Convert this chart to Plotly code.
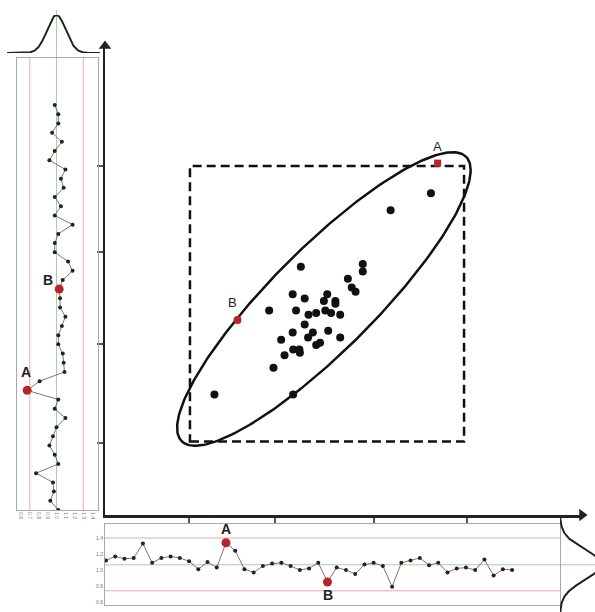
import numpy as np
import plotly.graph_objects as go

W, H = 595, 612

# ---------------- data ----------------
# left (vertical) control chart: values, top to bottom
left_vals = [0.98, 1.02, 1.02, 0.95, 1.06, 0.98, 0.92, 1.10, 1.05, 1.08, 0.98,
             1.05, 0.98, 1.18, 1.02, 0.98, 0.98, 1.13, 1.18, 1.07, 1.03,
             1.04, 1.04, 1.10, 1.06, 1.02, 1.02, 1.07, 1.08, 1.09, 0.81, 0.67,
             1.02, 0.98, 1.10, 1.00, 0.96, 0.92, 0.98, 1.02, 0.77, 0.96, 0.97, 0.93, 1.02]
left_A, left_B = 31, 20
left_center, left_lcl, left_ucl = 1.0, 0.7, 1.3
left_ticks = [0.6, 0.7, 0.8, 0.9, 1.0, 1.1, 1.2, 1.3, 1.4]
left_sd = 0.105

# bottom (horizontal) control chart
bottom_vals = [1.12, 1.17, 1.14, 1.15, 1.33, 1.09, 1.15, 1.17, 1.15, 1.11,
               1.01, 1.10, 1.03, 1.34, 1.24, 1.01, 0.97, 1.05, 1.08, 1.09,
               1.05, 1.00, 1.02, 1.09, 0.85, 1.03, 1.00, 0.95, 1.07, 1.09,
               1.05, 0.79, 1.09, 1.12, 1.15, 1.06, 1.09, 0.97, 1.02, 1.03,
               1.00, 1.13, 0.93, 1.01, 1.00]
bottom_A, bottom_B = 13, 24
bottom_center, bottom_lcl, bottom_ucl = 1.065, 0.74, 1.4
bottom_ticks = [0.6, 0.8, 1.0, 1.2, 1.4]
bottom_sd = 0.1875

# main scatter (x1 vs x2)
main_x = [6.79, 5.95, 4.08, 5.37, 5.37, 5.06, 5.14, 5.22, 3.91, 4.16, 4.63, 4.56,
          4.80, 4.80, 3.42, 3.98, 4.40, 4.59, 4.71, 4.90, 4.24, 4.16, 4.33, 3.91,
          4.65, 3.67, 4.23, 4.90, 4.40, 4.48, 3.92, 4.05, 4.06, 3.74, 3.51, 2.28, 3.92]
main_y = [6.70, 6.35, 5.17, 5.23, 5.07, 4.92, 4.74, 4.65, 4.60, 4.51, 4.60, 4.46,
          4.46, 4.40, 4.26, 4.26, 4.21, 4.26, 4.21, 4.17, 4.17, 3.97, 3.80, 3.80,
          3.84, 3.65, 3.70, 3.70, 3.54, 3.59, 3.45, 3.45, 3.38, 3.33, 3.07, 2.51, 2.51]
main_A = (6.93, 7.33)
main_B = (2.76, 4.06)
main_xticks = [1.75, 3.54, 5.60, 7.54]
main_yticks = [1.50, 3.56, 5.48, 7.27]
limits_x = (1.77, 7.48)
limits_y = (1.53, 7.27)
ellipse_center = (4.56, 4.50)
ellipse_axes = (4.19, 1.07)
ellipse_angle_deg = 45

# ---------------- helpers ----------------
def dx(p):
    return p / W

def dy(p):
    return 1 - p / H

RED = "#b8242a"
PINK = "#e9a9a9"
GREEN = "#9fd59f"
BOXC = "#a8a8a8"
FONT = "Liberation Sans"

fig = go.Figure()

# ---- main ellipse ----
t = np.linspace(0, 2 * np.pi, 300)
th = np.radians(ellipse_angle_deg)
a, b = ellipse_axes
ex = ellipse_center[0] + a * np.cos(t) * np.cos(th) - b * np.sin(t) * np.sin(th)
ey = ellipse_center[1] + a * np.cos(t) * np.sin(th) + b * np.sin(t) * np.cos(th)
fig.add_trace(go.Scatter(x=ex, y=ey, mode="lines", line=dict(color="#111", width=2.5),
                         xaxis="x", yaxis="y", hoverinfo="skip"))
fig.add_trace(go.Scatter(x=main_x, y=main_y, mode="markers",
                         marker=dict(color="#111", size=8), xaxis="x", yaxis="y"))
fig.add_trace(go.Scatter(x=[main_B[0]], y=[main_B[1]], mode="markers",
                         marker=dict(color=RED, size=8), xaxis="x", yaxis="y"))
fig.add_trace(go.Scatter(x=[main_A[0]], y=[main_A[1]], mode="markers",
                         marker=dict(color=RED, size=7, symbol="square"), xaxis="x", yaxis="y"))
# axis arrowheads
fig.add_trace(go.Scatter(x=[9.9375], y=[0], mode="markers", cliponaxis=False,
                         marker=dict(symbol="triangle-right", size=11, color="#222"),
                         xaxis="x", yaxis="y"))
fig.add_trace(go.Scatter(x=[0], y=[9.77], mode="markers", cliponaxis=False,
                         marker=dict(symbol="triangle-up", size=11, color="#222"),
                         xaxis="x", yaxis="y"))

# ---- left control chart ----
li = list(range(len(left_vals)))
fig.add_trace(go.Scatter(x=left_vals, y=li, mode="lines+markers",
                         line=dict(color="#555", width=0.8),
                         marker=dict(color="#222", size=4), xaxis="x2", yaxis="y2"))
fig.add_trace(go.Scatter(x=[left_vals[left_A], left_vals[left_B]], y=[left_A, left_B],
                         mode="markers", marker=dict(color=RED, size=9), cliponaxis=False,
                         xaxis="x2", yaxis="y2"))

# left bell curve
bx = np.linspace(0.444, 1.489, 200)
by = np.exp(-0.5 * ((bx - left_center) / left_sd) ** 2)
fig.add_trace(go.Scatter(x=bx, y=by, mode="lines", line=dict(color="#222", width=2),
                         xaxis="x3", yaxis="y3", hoverinfo="skip"))

# ---- bottom control chart ----
bi = list(range(len(bottom_vals)))
fig.add_trace(go.Scatter(x=bi, y=bottom_vals, mode="lines+markers",
                         line=dict(color="#555", width=0.8),
                         marker=dict(color="#222", size=4), xaxis="x4", yaxis="y4"))
fig.add_trace(go.Scatter(x=[bottom_A, bottom_B], y=[bottom_vals[bottom_A], bottom_vals[bottom_B]],
                         mode="markers", marker=dict(color=RED, size=9), cliponaxis=False,
                         xaxis="x4", yaxis="y4"))

# right bell curve
ry = np.linspace(0.475, 1.6875, 200)
rx = np.exp(-0.5 * ((ry - bottom_center) / bottom_sd) ** 2)
fig.add_trace(go.Scatter(x=rx, y=ry, mode="lines", line=dict(color="#222", width=2),
                         xaxis="x5", yaxis="y5", hoverinfo="skip"))

shapes = [
    # dashed limits rectangle
    dict(type="rect", xref="x", yref="y", x0=limits_x[0], x1=limits_x[1],
         y0=limits_y[0], y1=limits_y[1], line=dict(color="#111", width=2.5, dash="9px,5px"),
         layer="below"),
    # left panel limit lines
    dict(type="line", xref="x2", yref="y2 domain", x0=left_lcl, x1=left_lcl, y0=0, y1=1,
         line=dict(color=PINK, width=1), layer="below"),
    dict(type="line", xref="x2", yref="y2 domain", x0=left_ucl, x1=left_ucl, y0=0, y1=1,
         line=dict(color=PINK, width=1), layer="below"),
    dict(type="line", xref="x2", yref="paper", x0=left_center, x1=left_center,
         y0=dy(510), y1=dy(10), line=dict(color=GREEN, width=1), layer="below"),
    # bottom panel limit lines
    dict(type="line", xref="x4 domain", yref="y4", x0=0, x1=1, y0=bottom_ucl, y1=bottom_ucl,
         line=dict(color=PINK, width=1), layer="below"),
    dict(type="line", xref="x4 domain", yref="y4", x0=0, x1=1, y0=bottom_lcl, y1=bottom_lcl,
         line=dict(color=PINK, width=1), layer="below"),
    dict(type="line", xref="paper", yref="y4", x0=dx(105), x1=1, y0=bottom_center, y1=bottom_center,
         line=dict(color=GREEN, width=1), layer="below"),
]

lab_panel = dict(family=FONT, size=14, color="#222")
lab_main = dict(family=FONT, size=13, color="#222")
annotations = [
    dict(x=left_vals[left_B], y=left_B, xref="x2", yref="y2", text="<b>B</b>", showarrow=False,
         xshift=-11, yshift=9, font=lab_panel),
    dict(x=left_vals[left_A], y=left_A, xref="x2", yref="y2", text="<b>A</b>", showarrow=False,
         xshift=-1, yshift=18, font=lab_panel),
    dict(x=bottom_A, y=bottom_vals[bottom_A], xref="x4", yref="y4", text="<b>A</b>", showarrow=False,
         yshift=14, font=lab_panel),
    dict(x=bottom_B, y=bottom_vals[bottom_B], xref="x4", yref="y4", text="<b>B</b>", showarrow=False,
         yshift=-13, font=lab_panel),
    dict(x=main_A[0], y=main_A[1], xref="x", yref="y", text="A", showarrow=False,
         yshift=17, font=lab_main),
    dict(x=main_B[0], y=main_B[1], xref="x", yref="y", text="B", showarrow=False,
         xshift=-5, yshift=18, font=lab_main),
]

hidden = dict(visible=False, showgrid=False, zeroline=False, fixedrange=True)

fig.update_layout(
    width=W, height=H, margin=dict(l=0, r=0, t=0, b=0),
    paper_bgcolor="white", plot_bgcolor="rgba(0,0,0,0)",
    showlegend=False, font=dict(family=FONT),
    shapes=shapes, annotations=annotations,
    xaxis=dict(domain=[dx(105), dx(582)], range=[0, 9.9375], anchor="y",
               showline=True, linecolor="#222", linewidth=2.5,
               ticks="outside", ticklen=6, tickwidth=1.5, tickcolor="#555",
               tickvals=main_xticks, showticklabels=False, showgrid=False, zeroline=False),
    yaxis=dict(domain=[dy(515), dy(46)], range=[0, 9.77], anchor="x",
               showline=True, linecolor="#222", linewidth=2.5,
               ticks="outside", ticklen=6, tickwidth=1.5, tickcolor="#555",
               tickvals=main_yticks, showticklabels=False, showgrid=False, zeroline=False),
    xaxis2=dict(domain=[dx(17), dx(98)], range=[0.556, 1.466], anchor="y2",
                showline=True, mirror=True, linecolor=BOXC, linewidth=1,
                tickvals=left_ticks, ticktext=[f"{v:.1f}" for v in left_ticks],
                tickangle=90, tickfont=dict(size=5, color="#777"), ticks="",
                showgrid=False, zeroline=False),
    yaxis2=dict(domain=[dy(510), dy(58)], range=[44.0, -5.11], anchor="x2",
                showline=True, mirror=True, linecolor=BOXC, linewidth=1,
                showticklabels=False, ticks="", showgrid=False, zeroline=False),
    xaxis3=dict(domain=[dx(7), dx(100)], range=[0.444, 1.489], anchor="y3", **hidden),
    yaxis3=dict(domain=[dy(53), dy(15)], range=[0, 1], anchor="x3", **hidden),
    xaxis4=dict(domain=[dx(105), dx(560)], range=[-0.108, 49.19], anchor="y4",
                showline=True, mirror=True, linecolor=BOXC, linewidth=1,
                showticklabels=False, ticks="", showgrid=False, zeroline=False),
    yaxis4=dict(domain=[dy(605), dy(524)], range=[0.5625, 1.575], anchor="x4",
                showline=True, mirror=True, linecolor=BOXC, linewidth=1,
                tickvals=bottom_ticks, tickformat=".1f", ticks="",
                tickfont=dict(size=5, color="#777"), showgrid=False, zeroline=False),
    xaxis5=dict(domain=[dx(560), 1.0], range=[0, 35 / 42], anchor="y5", **hidden),
    yaxis5=dict(domain=[0, dy(515)], range=[0.475, 1.6875], anchor="x5", **hidden),
)

fig.write_html(
    "out.html",
    config={"displayModeBar": False, "staticPlot": True},
    post_script="document.body.style.margin='0';document.body.style.padding='0';"
                "document.body.style.overflow='hidden';",
)
